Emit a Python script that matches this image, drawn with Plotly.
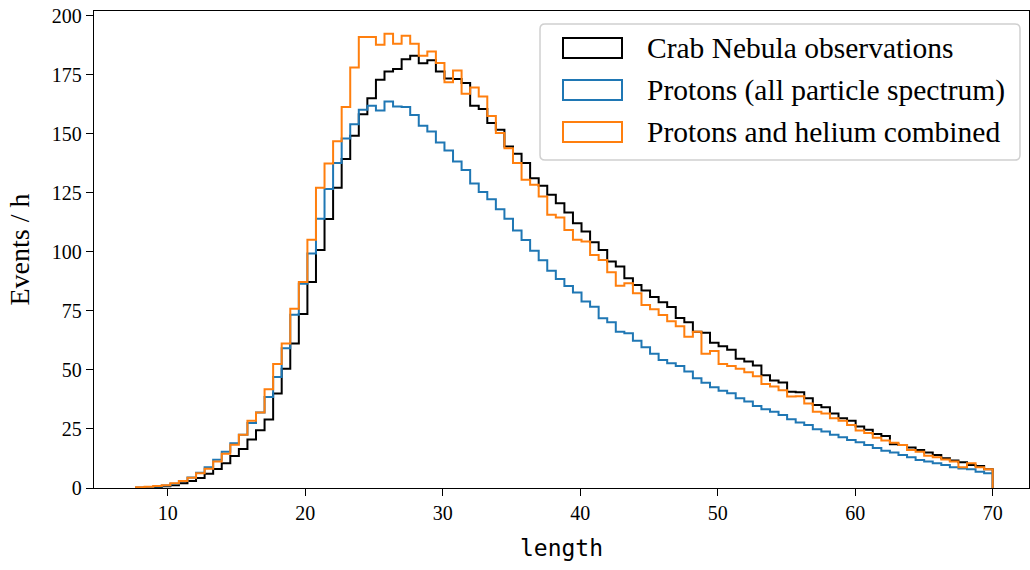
import numpy as np
import plotly.graph_objects as go

# Histogram binning (100 bins)
bin_start = 7.7
bin_stop = 70.0
n_bins = 100

crab = [0.1, 0.2, 0.4, 0.7, 1.2, 2.0, 3.0, 4.2, 6.0, 8.0,
        10.5, 13.5, 16.5, 20.5, 24.5, 29.0, 40.0, 50.5, 61.2, 73.7,
        87.2, 100.8, 113.9, 127.1, 139.3, 149.2, 158.3, 165.1, 172.9, 176.4,
        177.4, 181.6, 183.1, 179.9, 181.1, 176.4, 173.4, 173.2, 171.5, 161.9,
        160.5, 154.6, 151.7, 144.6, 141.5, 137.6, 131.2, 128.0, 124.2, 120.6,
        116.7, 112.1, 108.6, 104.1, 100.8, 95.9, 93.8, 88.8, 86.0, 83.6,
        80.9, 78.7, 76.6, 72.0, 70.2, 66.2, 65.7, 61.5, 60.0, 58.5,
        54.7, 53.6, 51.9, 47.7, 45.5, 44.7, 40.8, 40.5, 38.0, 35.2,
        34.2, 31.6, 29.5, 28.5, 26.0, 24.7, 22.9, 22.0, 18.5, 18.2,
        17.1, 16.1, 15.0, 14.0, 12.6, 11.6, 10.9, 9.7, 9.3, 7.9]

protons = [0.1, 0.3, 0.6, 1.1, 1.8, 3.0, 4.4, 6.5, 8.8, 12.0,
           15.3, 19.0, 22.5, 27.5, 32.0, 38.5, 47.0, 59.2, 73.4, 86.5,
           99.3, 114.0, 126.6, 137.6, 148.0, 154.0, 160.2, 161.9, 159.9, 163.7,
           161.6, 161.3, 158.0, 153.4, 151.0, 146.3, 142.9, 138.3, 134.7, 129.0,
           125.3, 122.3, 118.0, 114.0, 109.0, 105.0, 100.5, 96.5, 92.0, 88.5,
           85.5, 82.8, 79.0, 76.8, 71.9, 70.2, 66.2, 65.5, 62.4, 59.6,
           56.8, 54.2, 52.8, 51.7, 49.3, 46.5, 44.6, 42.7, 41.2, 40.1,
           38.0, 36.6, 34.7, 33.3, 32.3, 30.9, 29.1, 27.7, 26.7, 24.9,
           23.9, 22.5, 21.5, 20.3, 19.4, 18.2, 16.9, 15.8, 15.0, 14.0,
           13.0, 11.9, 11.2, 10.5, 9.7, 8.8, 8.3, 7.9, 6.9, 6.2]

combined = [0.3, 0.5, 0.8, 1.2, 2.0, 3.0, 4.3, 6.2, 8.2, 11.2,
            14.5, 18.3, 22.5, 28.5, 32.0, 41.8, 52.5, 61.2, 75.9, 87.2,
            105.1, 127.1, 137.4, 146.8, 161.3, 178.1, 191.0, 191.0, 187.7, 192.4,
            188.1, 191.5, 188.1, 183.1, 184.9, 180.0, 171.8, 176.8, 167.0, 169.6,
            165.8, 157.5, 150.3, 143.9, 137.6, 130.5, 128.4, 123.4, 115.7, 114.5,
            109.3, 105.1, 104.4, 98.7, 96.6, 91.4, 85.7, 86.7, 82.5, 77.5,
            75.7, 73.3, 70.6, 68.5, 64.1, 66.2, 56.8, 58.0, 52.5, 51.7,
            50.5, 49.0, 47.3, 44.0, 43.0, 41.4, 38.7, 38.9, 35.8, 32.3,
            31.5, 29.5, 28.5, 26.7, 24.4, 23.3, 21.3, 20.1, 19.2, 18.2,
            16.1, 15.4, 13.7, 13.0, 12.1, 11.2, 8.8, 10.5, 8.8, 7.9]

series_names = ["Crab Nebula observations",
                "Protons (all particle spectrum)",
                "Protons and helium combined"]
series_colors = ["#000000", "#1f77b4", "#ff7f0e"]
series_values = [crab, protons, combined]

x_ticks = [10, 20, 30, 40, 50, 60, 70]
y_ticks = [0, 25, 50, 75, 100, 125, 150, 175, 200]

edges = np.linspace(bin_start, bin_stop, n_bins + 1)

def step_outline(vals):
    xs = np.concatenate([[edges[0]], edges])
    ys = np.concatenate([[0.0], np.asarray(vals, float), [0.0]])
    return xs, ys

fig = go.Figure()
for name, color, vals in zip(series_names, series_colors, series_values):
    xs, ys = step_outline(vals)
    fig.add_trace(go.Scatter(x=xs, y=ys, mode="lines", line_shape="hv",
                             line=dict(color=color, width=2),
                             name=name, showlegend=False, hoverinfo="skip"))

serif = "Liberation Serif"

fig.update_layout(
    width=1030, height=570,
    margin=dict(l=94, r=1, t=11, b=82),
    paper_bgcolor="white", plot_bgcolor="white",
    font=dict(family=serif, size=20, color="black"),
    xaxis=dict(range=[4.64, 72.64], tickvals=x_ticks, ticks="outside",
               ticklen=7, tickwidth=1.3, tickcolor="black",
               showline=True, linecolor="black", linewidth=1.3, mirror=True,
               showgrid=False, zeroline=False,
               tickfont=dict(family=serif, size=20),
               title=dict(text="length", font=dict(family="DejaVu Sans Mono", size=23),
                          standoff=16)),
    yaxis=dict(range=[0, 202], tickvals=y_ticks, ticks="outside",
               ticklen=7, tickwidth=1.3, tickcolor="black",
               showline=True, linecolor="black", linewidth=1.3, mirror=True,
               showgrid=False, zeroline=False,
               tickfont=dict(family=serif, size=20),
               title=dict(text="Events / h", font=dict(family=serif, size=28),
                          standoff=14)),
)

# Legend drawn as outlined patches (paper coordinates)
L, R, T, B = 94, 1029, 11, 488
pw, ph = R - L, B - T

def px_x(p):
    return (p - L) / pw

def px_y(p):
    return (B - p) / ph

# rounded legend frame
fx0, fx1, fy0, fy1, rad = 540, 1020, 24, 160, 5
def pt(x, y):
    return f"{px_x(x):.5f},{px_y(y):.5f}"
frame_path = (f"M {pt(fx0 + rad, fy0)} L {pt(fx1 - rad, fy0)} Q {pt(fx1, fy0)} {pt(fx1, fy0 + rad)} "
              f"L {pt(fx1, fy1 - rad)} Q {pt(fx1, fy1)} {pt(fx1 - rad, fy1)} "
              f"L {pt(fx0 + rad, fy1)} Q {pt(fx0, fy1)} {pt(fx0, fy1 - rad)} "
              f"L {pt(fx0, fy0 + rad)} Q {pt(fx0, fy0)} {pt(fx0 + rad, fy0)} Z")
fig.add_shape(type="path", xref="paper", yref="paper", path=frame_path,
              line=dict(color="#d0d0d0", width=1.5), fillcolor="rgba(255,255,255,0.8)",
              layer="above")
rows = [48, 90, 132]
for name, color, yc in zip(series_names, series_colors, rows):
    fig.add_shape(type="rect", xref="paper", yref="paper",
                  x0=px_x(563), x1=px_x(622), y0=px_y(yc + 10), y1=px_y(yc - 10),
                  line=dict(color=color, width=2), fillcolor="rgba(0,0,0,0)",
                  layer="above")
    fig.add_annotation(xref="paper", yref="paper", x=px_x(645), y=px_y(yc),
                       text=name, showarrow=False, xanchor="left", yanchor="middle",
                       font=dict(family=serif, size=29.5, color="black"))

fig.write_html("out.html")
